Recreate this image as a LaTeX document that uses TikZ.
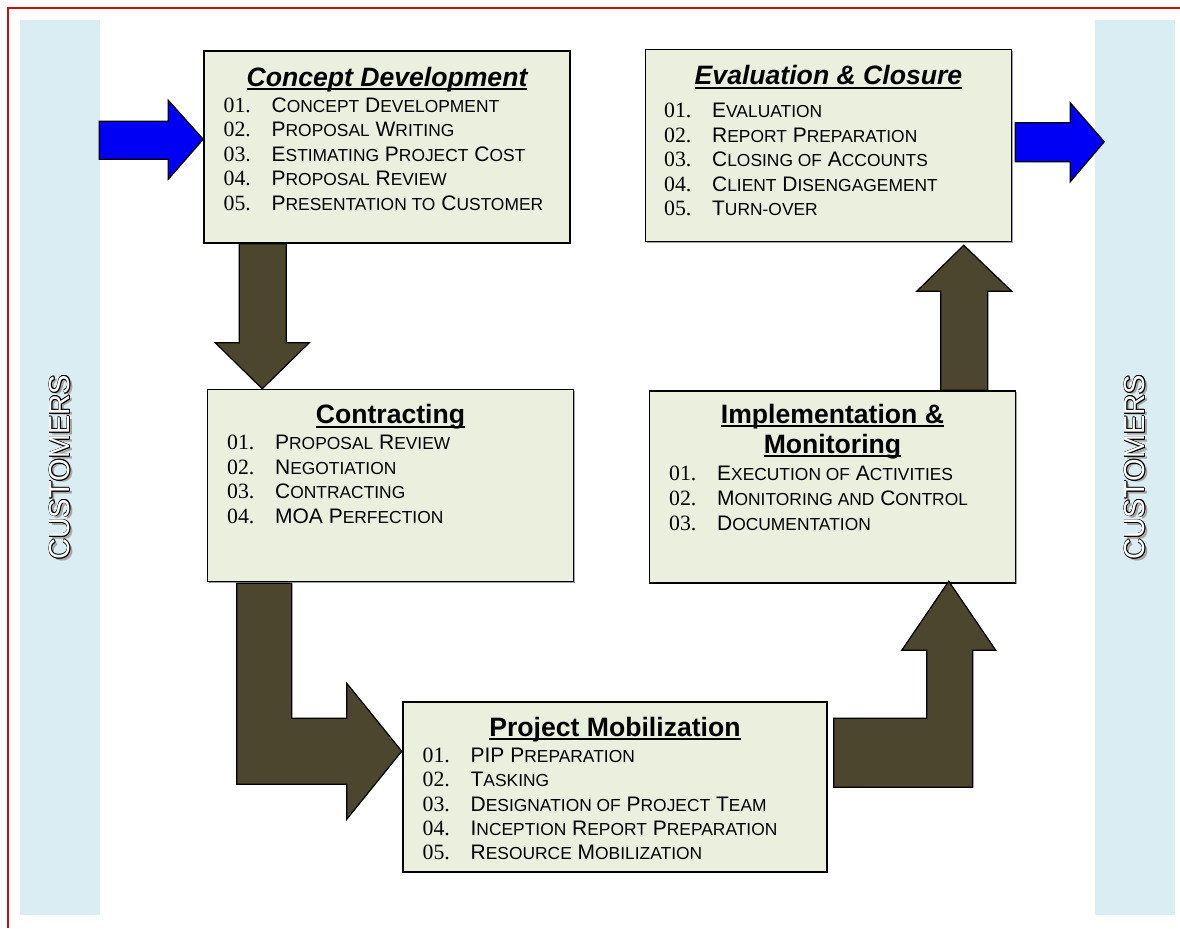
\documentclass[tikz,border=0pt]{standalone}
\usepackage{fontspec}
\setmainfont{Liberation Serif}
\setsansfont{Liberation Sans}
\usepackage{tikz}
\usetikzlibrary{calc}
\usetikzlibrary{positioning}
\usetikzlibrary{shadows}

\definecolor{boxfill}{RGB}{235,239,222}
\definecolor{arrowbrown}{RGB}{76,70,46}
\definecolor{bandblue}{RGB}{218,237,243}
\definecolor{flowblue}{RGB}{0,0,245}
\definecolor{framered}{RGB}{200,16,16}

\newcommand{\lsc}[1]{{\fontsize{8.7}{10}\selectfont\MakeUppercase{#1}}}
\newcommand{\ttl}[1]{\setbox0\hbox{#1}\leavevmode\rlap{\vrule height -1pt depth 2pt width \wd0}\box0}
\newcommand{\nr}[1]{\makebox[24pt][l]{\rmfamily\fontsize{10.9}{12}\selectfont #1}}

\begin{document}
\begin{tikzpicture}[x=0.5pt, y=-0.5pt,
      band/.style ={fill=bandblue, minimum width=40pt, minimum height=447.5pt, inner sep=0pt},
      custtxt/.style ={rotate=90, font=\sffamily\fontsize{14.5}{16}\selectfont, inner sep=0pt},
      phase/.style ={draw=black, line width=0.75pt, fill=boxfill, inner sep=0pt, minimum width=183pt, minimum height=96pt,
                     drop shadow={shadow xshift=0.7pt, shadow yshift=-0.7pt, fill=black!45, opacity=0.8}},
      title/.style ={anchor=base, font=\sffamily\bfseries\fontsize{13.3}{15}\selectfont, inner sep=0pt},
      item/.style ={anchor=base west, font=\sffamily\fontsize{10.5}{12}\selectfont, inner sep=0pt},
      flow/.style ={draw=black, line width=0.6pt, fill=flowblue, line join=miter},
      bigarrow/.style ={draw=black, line width=0.6pt, fill=arrowbrown, line join=miter}
    ]
    \useasboundingbox (0,0) rectangle (1180,928);
    \draw [framered, line width=0.9pt] (8,928) -- (8,8) -- (1180,8) ;

    \node [band] (lband) at (60,467.5) {} ;
    \node [band] (rband) at (1135,467.5) {} ;
    \node [custtxt, text=black!35] (lsh) at ([shift={(1.2pt,-1.2pt)}]lband.center) {CUSTOMERS} ;
    \node [custtxt, text=black!35] (rsh) at ([shift={(1.2pt,-1.2pt)}]rband.center) {CUSTOMERS} ;
    \foreach \dx/\dy [count=\k] in {0.45/0, -0.45/0, 0/0.45, 0/-0.45, 0.32/0.32, -0.32/0.32, 0.32/-0.32, -0.32/-0.32} {
      \node [custtxt, text=black] (lo\k) at ([shift={(\dx pt,\dy pt)}]lband.center) {CUSTOMERS} ;
      \node [custtxt, text=black] (ro\k) at ([shift={(\dx pt,\dy pt)}]rband.center) {CUSTOMERS} ;
    }
    \node [custtxt, text=white] (lcust) at (lband.center) {CUSTOMERS} ;
    \node [custtxt, text=white] (rcust) at (rband.center) {CUSTOMERS} ;

    \node [phase] (cd) at (387,147) {} ;
    \node [phase] (ct) [below=72.5pt of cd, xshift=1.75pt] {} ;
    \node [phase] (ec) [right=37pt of cd, yshift=0.75pt] {} ;
    \node [phase] (im) [below=74pt of ec, xshift=2pt] {} ;
    \node [phase, minimum width=212pt, minimum height=85pt] (pm) at (615,787) {} ;

    \node [title] (cdt) at ($(cd.north)+(0,36)$) {\ttl{\itshape Concept Development}} ;
    \node [title] (ctt) at ($(ct.north)+(0,35)$) {\ttl{Contracting}} ;
    \node [title] (ect) at ($(ec.north)+(0,36)$) {\ttl{\itshape Evaluation \& Closure}} ;
    \node [title] (imt) at ($(im.north)+(0,33)$) {\ttl{Implementation \&}} ;
    \node [title] (imt2) at ($(im.north)+(0,63)$) {\ttl{Monitoring}} ;
    \node [title] (pmt) at ($(pm.north)+(0,35)$) {\ttl{Project Mobilization}} ;

    \foreach \t [count=\i] in {{C\lsc{oncept} D\lsc{evelopment}}, {P\lsc{roposal} W\lsc{riting}},
        {E\lsc{stimating} P\lsc{roject} C\lsc{ost}}, {P\lsc{roposal} R\lsc{eview}}, {P\lsc{resentation to} C\lsc{ustomer}}}
      \node [item] (cd\i) at ($(cd.north west)+(20,37.5+24.5*\i)$) {\nr{0\i.}\t} ;
    \foreach \t [count=\i] in {{P\lsc{roposal} R\lsc{eview}}, {N\lsc{egotiation}}, {C\lsc{ontracting}}, {MOA P\lsc{erfection}}}
      \node [item] (ct\i) at ($(ct.north west)+(20,36.5+24.5*\i)$) {\nr{0\i.}\t} ;
    \foreach \t [count=\i] in {{PIP P\lsc{reparation}}, {T\lsc{asking}}, {D\lsc{esignation of} P\lsc{roject} T\lsc{eam}},
        {I\lsc{nception} R\lsc{eport} P\lsc{reparation}}, {R\lsc{esource} M\lsc{obilization}}}
      \node [item] (pm\i) at ($(pm.north west)+(20,36.6+24.4*\i)$) {\nr{0\i.}\t} ;
    \foreach \t [count=\i] in {{E\lsc{xecution of} A\lsc{ctivities}}, {M\lsc{onitoring and} C\lsc{ontrol}}, {D\lsc{ocumentation}}}
      \node [item] (im\i) at ($(im.north west)+(20,65+25*\i)$) {\nr{0\i.}\t} ;
    \foreach \t [count=\i] in {{E\lsc{valuation}}, {R\lsc{eport} P\lsc{reparation}}, {C\lsc{losing of} A\lsc{ccounts}},
        {C\lsc{lient} D\lsc{isengagement}}, {T\lsc{urn-over}}}
      \node [item] (ec\i) at ($(ec.north west)+(19,44.5+24.5*\i)$) {\nr{0\i.}\t} ;

    \draw [flow] ($(cd.north west)+(0,89)$) -- ++(-35,-39) -- ++(0,21) -- ++(-69,0) -- ++(0,38) -- ++(69,0) -- ++(0,20) -- cycle ;
    \draw [flow] (ec.north east) ++(3,74) -- ++(55,0) -- ++(0,-20) -- ++(34,39) -- ++(-34,40) -- ++(0,-20) -- ++(-55,0) -- cycle ;
    \draw [bigarrow] (cd.south west) ++(36,0) -- ++(47,0) -- ++(0,99) -- ++(23,0) -- ++(-47,46) -- ++(-47,-46) -- ++(24,0) -- cycle ;
    \draw [bigarrow] (ct.south west) ++(30,1) -- ++(55,0) -- ++(0,135) -- ++(55,0) -- ++(0,-35) -- ++(55,68) -- ++(-55,68) -- ++(0,-35) -- ++(-110,0) -- cycle ;
    \draw [bigarrow] (pm.north east) ++(6,17) -- ++(93,0) -- ++(0,-68) -- ++(-25,0) -- ++(47,-69) -- ++(47,69) -- ++(-23,0) -- ++(0,137) -- ++(-139,0) -- cycle ;
    \draw [bigarrow] (im.north west) ++(292,0) -- ++(0,-99) -- ++(-24,0) -- ++(47,-46) -- ++(48,46) -- ++(-24,0) -- ++(0,99) -- cycle ;
  \end{tikzpicture}
\end{document}
